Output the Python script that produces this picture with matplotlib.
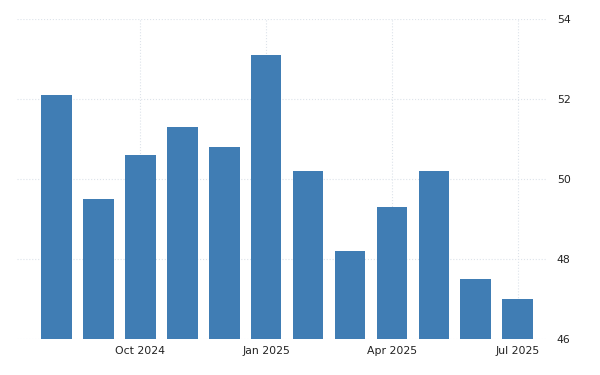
import matplotlib
matplotlib.use("Agg")
import matplotlib.pyplot as plt

months = ["Aug 2024", "Sep 2024", "Oct 2024", "Nov 2024", "Dec 2024", "Jan 2025",
          "Feb 2025", "Mar 2025", "Apr 2025", "May 2025", "Jun 2025", "Jul 2025"]
values = [52.1, 49.5, 50.6, 51.3, 50.8, 53.1, 50.2, 48.2, 49.3, 50.2, 47.5, 47.0]
tick_labels = ["Oct 2024", "Jan 2025", "Apr 2025", "Jul 2025"]
y_ticks = [46, 48, 50, 52, 54]

fig = plt.figure(figsize=(6, 3.75), dpi=100)
ax = fig.add_axes([0.0283, 0.0952, 0.8834, 0.8541])

x = list(range(len(months)))
ax.bar(x, [v - 46 for v in values], bottom=46, width=0.73, color="#407db4", zorder=3)

ax.set_xlim(-0.944, 11.70)
ax.set_ylim(46, 54)
ax.set_yticks(y_ticks)
ax.yaxis.tick_right()
tick_pos = [months.index(t) for t in tick_labels]
ax.set_xticks(tick_pos)
ax.set_xticklabels(tick_labels)
ax.tick_params(axis="both", length=0, labelsize=7.8, colors="#222222")
ax.tick_params(axis="y", pad=7)
ax.tick_params(axis="x", pad=5)
ax.grid(True, color="#dde3ea", linestyle=":", linewidth=0.8, zorder=0)
for s in ax.spines.values():
    s.set_visible(False)

fig.savefig("out.png", dpi=100, facecolor="white")
